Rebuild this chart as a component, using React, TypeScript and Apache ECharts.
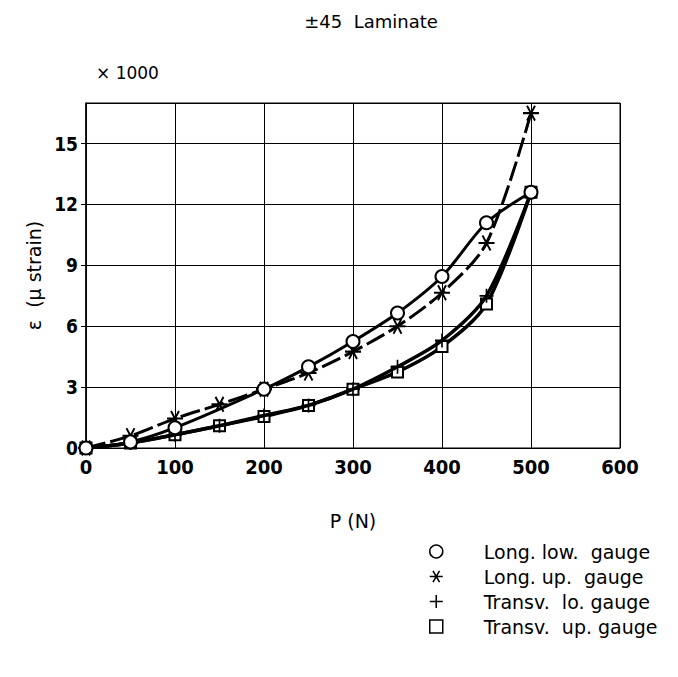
import React, { useEffect, useRef } from "react";
import * as echarts from "echarts";

const loads = [0, 50, 100, 150, 200, 250, 300, 350, 400, 450, 500];
const longLow = [0, 0.3, 1.0, null, 2.9, 4.0, 5.25, 6.65, 8.45, 11.1, 12.6];
const longUp = [0, 0.6, 1.45, 2.15, 2.9, 3.7, 4.75, 6.0, 7.65, 10.1, 16.5];
const transvLo = [0, 0.25, 0.65, 1.1, 1.6, 2.1, 2.9, 4.0, 5.3, 7.5, 12.6];
const transvUp = [0, 0.25, 0.65, 1.1, 1.55, 2.1, 2.9, 3.75, 5.0, 7.1, 12.6];
const seriesNames = ["Long. low.  gauge", "Long. up.  gauge", "Transv.  lo. gauge", "Transv.  up. gauge"];
const xTicks = [0, 100, 200, 300, 400, 500, 600];
const yTicks = [0, 3, 6, 9, 12, 15];

const FONT = "'DejaVu Sans', sans-serif";
const NARROW = "'DejaVu Sans Condensed', 'DejaVu Sans', sans-serif";

const STAR =
  "path://M-10,-1.2L10,-1.2L10,1.2L-10,1.2Z" +
  "M-3.96,-9.26L6.04,8.06L3.96,9.26L-6.04,-8.06Z" +
  "M6.04,-8.06L-3.96,9.26L-6.04,8.06L3.96,-9.26Z";
const PLUS =
  "path://M-1.2,-10L1.2,-10L1.2,-1.2L10,-1.2L10,1.2L1.2,1.2L1.2,10L-1.2,10L-1.2,1.2L-10,1.2L-10,-1.2L-1.2,-1.2Z";

const pairs = (ys: (number | null)[]) => loads.map((x, i) => [x, ys[i]]);

export default function App() {
  const ref = useRef<HTMLDivElement>(null);
  useEffect(() => {
    if (!ref.current) return;
    const chart = echarts.init(ref.current, undefined, { renderer: "svg" });
    chart.setOption({
      animation: false,
      backgroundColor: "#fff",
      textStyle: { fontFamily: FONT, color: "#000" },
      title: {
        text: "±45  Laminate",
        left: 366,
        top: 7,
        textAlign: "center",
        textStyle: { fontFamily: FONT, fontSize: 18, fontWeight: "normal", color: "#000" },
      },
      graphic: [
        {
          type: "text",
          left: 96,
          top: 64,
          style: { text: "× 1000", fontFamily: FONT, fontSize: 17, fill: "#000" },
        },
      ],
      grid: { left: 86, right: 58, top: 103, bottom: 229, show: true, borderColor: "#000", borderWidth: 1 },
      xAxis: {
        type: "value",
        min: 0,
        max: 600,
        interval: 100,
        name: "P (N)",
        nameLocation: "middle",
        nameGap: 63,
        nameTextStyle: { fontFamily: FONT, fontSize: 19, fontWeight: "normal", color: "#000" },
        axisLine: { lineStyle: { color: "#000", width: 1 } },
        axisTick: { show: false },
        axisLabel: {
          fontFamily: NARROW,
          fontSize: 20,
          fontWeight: "bold",
          color: "#000",
          margin: 9,
          formatter: (v: number) => (xTicks.includes(v) ? String(v) : ""),
        },
        splitLine: { lineStyle: { color: "#000", width: 1 } },
      },
      yAxis: {
        type: "value",
        min: 0,
        max: 17,
        interval: 3,
        name: "ε  (μ strain)",
        nameLocation: "middle",
        nameGap: 42,
        nameRotate: 90,
        nameTextStyle: { fontFamily: FONT, fontSize: 19, fontWeight: "normal", color: "#000" },
        axisLine: { lineStyle: { color: "#000", width: 1.5 } },
        axisTick: { show: true, length: 5, inside: false, lineStyle: { color: "#000" } },
        axisLabel: {
          fontFamily: NARROW,
          fontSize: 19,
          fontWeight: "bold",
          color: "#000",
          margin: 8,
          showMaxLabel: false,
          formatter: (v: number) => (yTicks.includes(v) ? String(v) : ""),
        },
        splitLine: { lineStyle: { color: "#000", width: 1 } },
      },
      legend: {
        orient: "vertical",
        left: 429,
        top: 542,
        padding: 0,
        itemWidth: 13,
        itemHeight: 13,
        itemGap: 6,
        textStyle: { fontFamily: FONT, fontSize: 19, color: "#000", padding: [0, 0, 0, 36] },
        data: [
          { name: seriesNames[0], icon: "circle", itemStyle: { color: "#fff", borderColor: "#000", borderWidth: 1.5 } },
          { name: seriesNames[1], icon: STAR, itemStyle: { color: "#000", borderWidth: 0 } },
          { name: seriesNames[2], icon: PLUS, itemStyle: { color: "#000", borderWidth: 0 } },
          { name: seriesNames[3], icon: "rect", itemStyle: { color: "#fff", borderColor: "#000", borderWidth: 1.5 } },
        ],
      },
      series: [
        {
          name: seriesNames[3],
          type: "line",
          smooth: 0.3,
          connectNulls: true,
          data: pairs(transvUp),
          symbol: "rect",
          symbolSize: 11,
          itemStyle: { color: "#fff", borderColor: "#000", borderWidth: 2 },
          lineStyle: { color: "#000", width: 3.5 },
          z: 2,
        },
        {
          name: seriesNames[2],
          type: "line",
          smooth: 0.3,
          connectNulls: true,
          data: pairs(transvLo),
          symbol: PLUS,
          symbolSize: 14,
          itemStyle: { color: "#000", borderWidth: 0 },
          lineStyle: { color: "#000", width: 3.5 },
          z: 3,
        },
        {
          name: seriesNames[1],
          type: "line",
          smooth: 0.3,
          connectNulls: true,
          data: pairs(longUp),
          symbol: STAR,
          symbolSize: 16,
          itemStyle: { color: "#000", borderWidth: 0 },
          lineStyle: { color: "#000", width: 3, type: [20, 5] },
          z: 4,
        },
        {
          name: seriesNames[0],
          type: "line",
          smooth: 0.3,
          connectNulls: true,
          data: pairs(longLow),
          symbol: "circle",
          symbolSize: 13,
          itemStyle: { color: "#fff", borderColor: "#000", borderWidth: 2 },
          lineStyle: { color: "#000", width: 3 },
          z: 5,
        },
      ],
    });
    return () => chart.dispose();
  }, []);
  return (
    <div
      ref={ref}
      style={{ position: "fixed", left: 0, top: 0, width: 678, height: 677, background: "#fff" }}
    />
  );
}
